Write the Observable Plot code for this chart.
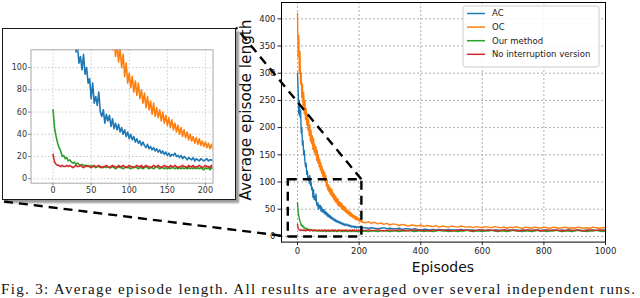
<!DOCTYPE html>
<html><head><meta charset="utf-8">
<script src="https://cdn.jsdelivr.net/npm/d3@7"></script>
<script src="https://cdn.jsdelivr.net/npm/@observablehq/plot@0.6"></script>
<style>
html,body{margin:0;padding:0;background:#fff;overflow:hidden;}
#wrap{position:relative;width:640px;height:298px;overflow:hidden;font-family:"DejaVu Sans",sans-serif;background:#fff;}
</style></head>
<body><div id="wrap"></div>
<script>
// ---- data ----
const series = ["AC", "OC", "Our method", "No interruption version"];
const colors = ["#1f77b4", "#ff7f0e", "#2ca02c", "#d62728"];

// episodes 0..210 every 2 (head), 220..1000 every 10 (tail)
const acHead = [300,270,225,250,220,232,190,200,168,176,
150,158,138,128,134,114,120,104,110,98,
112,94,100,86,90,72,86,68,74,66,
78,60,56,62,50,58,52,57,47,54,
45,50,44,49,42,46,40,44,38,42,
36,40,35,38,33,36,32,34,30,33,
30,28,31,27,29,26,28,25,27,24,
26,23,25,22,24,21,23,20,22,21,
23,20,21,19,21,18,20,19,17,19,
18,17,19,16,18,17,16,18,17,16,
17,18,16,17,17,16];
const ocHead = [410,330,370,300,340,280,300,255,280,240,
265,225,250,215,235,205,225,195,215,185,
205,175,195,170,185,160,180,155,170,150,
165,140,158,135,150,128,142,122,135,116,
128,110,122,105,118,100,112,92,104,86,
95,82,92,78,88,75,86,72,80,68,
77,64,74,62,70,58,68,56,64,55,
62,52,60,50,57,48,55,46,53,44,
50,42,48,40,46,38,44,37,42,35,
40,34,38,32,37,31,36,30,34,29,
33,28,32,27,31,26];
const ourHead = [62,45,38,32,28,25,20,21,18,19,
16,17,15,14,15,13,14,13,12,13,
12,12,11,12,11,12,11,11,10,11,
11,10,11,10,11,10,11,10,10,11,
10,9,10,11,10,10,9,10,11,10,
10,9,10,10,11,10,9,10,10,9,
10,11,10,9,10,10,9,10,11,10,
9,10,10,9,10,9,10,9,10,10,
9,10,9,10,9,10,9,10,9,10,
9,10,9,10,9,10,9,10,9,8,
10,9,10,8,10,9];
const noIntHead = [22,15,13,12,12,11,12,11,11,12,
11,12,11,10,11,12,11,11,12,11,
10,11,12,11,11,10,11,12,11,11,
12,11,10,11,11,12,11,10,11,12,
11,11,10,12,11,11,12,11,10,11,
12,11,11,10,11,12,11,11,12,10,
11,12,11,11,10,11,12,11,11,12,
11,10,11,12,11,11,10,12,11,11,
12,11,10,11,11,12,11,11,10,12,
11,11,12,10,11,11,12,11,10,11,
12,11,11,10,12,11];

const acTail = [16,15,16,15,14,15,16,14,15,14,14,15,13,14,14,13,14,13,12,13,
13,12,13,12,13,12,12,13,12,12,12,13,12,11,12,12,11,12,12,11,
12,11,12,12,11,12,11,12,11,12,11,12,11,12,11,11,12,11,12,11,
11,12,11,11,12,11,12,11,11,12,11,11,12,11,12,11,11,12,11];
const ocTail = [25,27,24,26,23,25,22,24,21,23,22,20,22,21,19,21,20,19,21,18,
20,19,18,20,17,19,18,17,19,18,17,19,18,17,18,16,18,17,16,18,
17,16,18,17,16,17,15,17,16,18,16,15,17,16,15,17,16,15,17,16,
15,17,16,15,16,17,15,16,15,17,16,15,16,15,17,16,15,16,16];
const ourTail = [10,9,10,10,9,10,11,10,9,10,10,9,10,10,11,10,9,10,10,9,
10,10,9,10,11,10,10,9,10,10,9,10,10,11,10,9,10,10,9,10,
10,11,10,9,10,10,9,10,11,10,10,9,10,10,9,10,11,10,10,9,
10,10,11,10,9,10,10,9,10,11,10,10,9,10,10,11,10,9,10];
const noIntTail = [11,12,11,11,12,11,10,11,12,11,11,12,11,11,10,12,11,11,12,11,
11,10,12,11,11,12,11,11,10,11,12,11,11,12,11,10,11,12,11,11,
12,11,11,10,11,12,11,11,12,11,10,11,12,11,11,12,11,10,11,12,
11,11,12,11,10,11,12,11,11,12,11,10,11,12,11,11,12,11,11];

const xTicks = [0, 200, 400, 600, 800, 1000];
const yTicks = [0, 50, 100, 150, 200, 250, 300, 350, 400];
const insetXTicks = [0, 50, 100, 150, 200];
const insetYTicks = [0, 20, 40, 60, 80, 100];
const zoomX = [-30, 209];
const zoomY = [-1, 104];

const xLabel = "Episodes";
const yLabel = "Average episode length";
const caption = "Fig. 3: Average episode length. All results are averaged over several independent runs.";

// ---- build table ----
function rows(name, head, tail) {
  return [
    ...head.map((v, i) => ({s: name, x: i * 2, y: v})),
    ...tail.map((v, i) => ({s: name, x: 220 + i * 10, y: v}))
  ];
}
const data = [
  ...rows(series[0], acHead, acTail),
  ...rows(series[1], ocHead, ocTail),
  ...rows(series[2], ourHead, ourTail),
  ...rows(series[3], noIntHead, noIntTail)
];
const plain = d => String(d);

const wrap = document.getElementById("wrap");

// ---- main chart ----
const main = Plot.plot({
  width: 640, height: 298,
  marginLeft: 281, marginRight: 35, marginTop: 2, marginBottom: 56.4,
  style: {background: "transparent", fontFamily: "DejaVu Sans", fontSize: "8.5px", color: "#222", overflow: "visible"},
  x: {domain: [-52, 1000]},
  y: {domain: [-10.5, 430]},
  color: {domain: series, range: colors},
  marks: [
    Plot.gridX(xTicks, {stroke: "#b0b0b0", strokeOpacity: 1, strokeDasharray: "2,2"}),
    Plot.gridY(yTicks, {stroke: "#b0b0b0", strokeOpacity: 1, strokeDasharray: "2,2"}),
    Plot.line(data, {x: "x", y: "y", z: "s", stroke: "s", strokeWidth: 1.4}),
    Plot.frame({stroke: "#000", strokeWidth: 1}),
    Plot.axisX(xTicks, {tickSize: 3.5, tickPadding: 2, label: null, fontSize: 8.5, tickFormat: plain}),
    Plot.axisY(yTicks, {tickSize: 3.5, tickPadding: 2.5, label: null, fontSize: 8.5, tickFormat: plain})
  ]
});
main.style.position = "absolute";
main.style.left = "0px";
main.style.top = "0px";
wrap.appendChild(main);

// ---- inset ----
const box = document.createElement("div");
box.style.cssText = "position:absolute;left:2px;top:27.5px;width:232px;height:170px;border:1.5px solid #1a1a1a;box-shadow:3px 3px 2px #9a9a9a;background:#fff;";
const inset = Plot.plot({
  width: 232, height: 170,
  marginLeft: 27.5, marginRight: 22.5, marginTop: 20.3, marginBottom: 16.3,
  style: {background: "#fff", fontFamily: "DejaVu Sans", fontSize: "8px", color: "#333"},
  x: {domain: [-29, 210]},
  y: {domain: [-4, 116]},
  color: {domain: series, range: colors},
  marks: [
    Plot.gridX(insetXTicks, {stroke: "#c8c8c8", strokeOpacity: 1, strokeDasharray: "1.5,2"}),
    Plot.gridY(insetYTicks, {stroke: "#c8c8c8", strokeOpacity: 1, strokeDasharray: "1.5,2"}),
    Plot.line(data, {x: "x", y: "y", z: "s", stroke: "s", strokeWidth: 1.6, clip: true}),
    Plot.frame({stroke: "#a8a8a8", strokeWidth: 1}),
    Plot.axisX(insetXTicks, {tickSize: 2.5, tickPadding: 2, label: null, fontSize: 8, stroke: "#888", tickFormat: plain}),
    Plot.axisY(insetYTicks, {tickSize: 2.5, tickPadding: 1.5, label: null, fontSize: 8, stroke: "#888", tickFormat: plain})
  ]
});
inset.style.display = "block";
box.appendChild(inset);
wrap.appendChild(box);

// ---- overlay: zoom connectors, legend, labels, caption ----
const sx = main.scale("x"), sy = main.scale("y");
const wr = wrap.getBoundingClientRect();
const br = box.getBoundingClientRect();
const bx0 = br.left - wr.left, by0 = br.top - wr.top, bx1 = br.right - wr.left, by1 = br.bottom - wr.top;

const ov = d3.create("svg")
  .attr("width", 640).attr("height", 298)
  .style("position", "absolute").style("left", "0px").style("top", "0px")
  .style("overflow", "visible");

const rx0 = sx.apply(zoomX[0]), rx1 = sx.apply(zoomX[1]);
const ry0 = sy.apply(zoomY[1]), ry1 = sy.apply(zoomY[0]);
const dash = {stroke: "#000", "stroke-width": 2.4, "stroke-dasharray": "9,6", fill: "none"};
function applyAttrs(sel, a) { for (const k in a) sel.attr(k, a[k]); return sel; }

applyAttrs(ov.append("rect").attr("x", rx0).attr("y", ry0).attr("width", rx1 - rx0).attr("height", ry1 - ry0), dash);
applyAttrs(ov.append("line").attr("x1", rx1).attr("y1", ry0).attr("x2", bx1).attr("y2", by0), dash);
applyAttrs(ov.append("line").attr("x1", bx0 + 2).attr("y1", by1 + 2).attr("x2", rx0).attr("y2", ry1), dash);

// legend
const lg = ov.append("g");
lg.append("rect").attr("x", 463).attr("y", 6).attr("width", 136).attr("height", 61).attr("rx", 2.5)
  .attr("fill", "#fff").attr("fill-opacity", 0.85).attr("stroke", "#cccccc").attr("stroke-width", 1);
series.forEach((name, i) => {
  const y = 13.5 + i * 13.6;
  lg.append("line").attr("x1", 467).attr("x2", 485).attr("y1", y).attr("y2", y)
    .attr("stroke", colors[i]).attr("stroke-width", 1.5);
  lg.append("text").attr("x", 492).attr("y", y).attr("dy", "0.35em")
    .attr("font-family", "DejaVu Sans").attr("font-size", 8.5).attr("fill", "#222").text(name);
});

// axis labels
ov.append("text").attr("x", (sx.range[0] + sx.range[1]) / 2).attr("y", 267).attr("dy", "0.35em")
  .attr("text-anchor", "middle").attr("font-family", "DejaVu Sans").attr("font-size", 14).attr("fill", "#111").text(xLabel);
ov.append("text").attr("transform", "translate(246,110) rotate(-90)").attr("dy", "0.35em")
  .attr("text-anchor", "middle").attr("font-family", "DejaVu Sans").attr("font-size", 15.3).attr("fill", "#111").text(yLabel);

// caption along the bottom edge, kept fully inside the picture
ov.append("text").attr("x", 1).attr("y", 293.5).attr("font-family", "Liberation Serif").attr("font-size", 15)
  .attr("textLength", 634).attr("lengthAdjust", "spacing")
  .attr("fill", "#111").text(caption);

wrap.appendChild(ov.node());
</script>
</body></html>
